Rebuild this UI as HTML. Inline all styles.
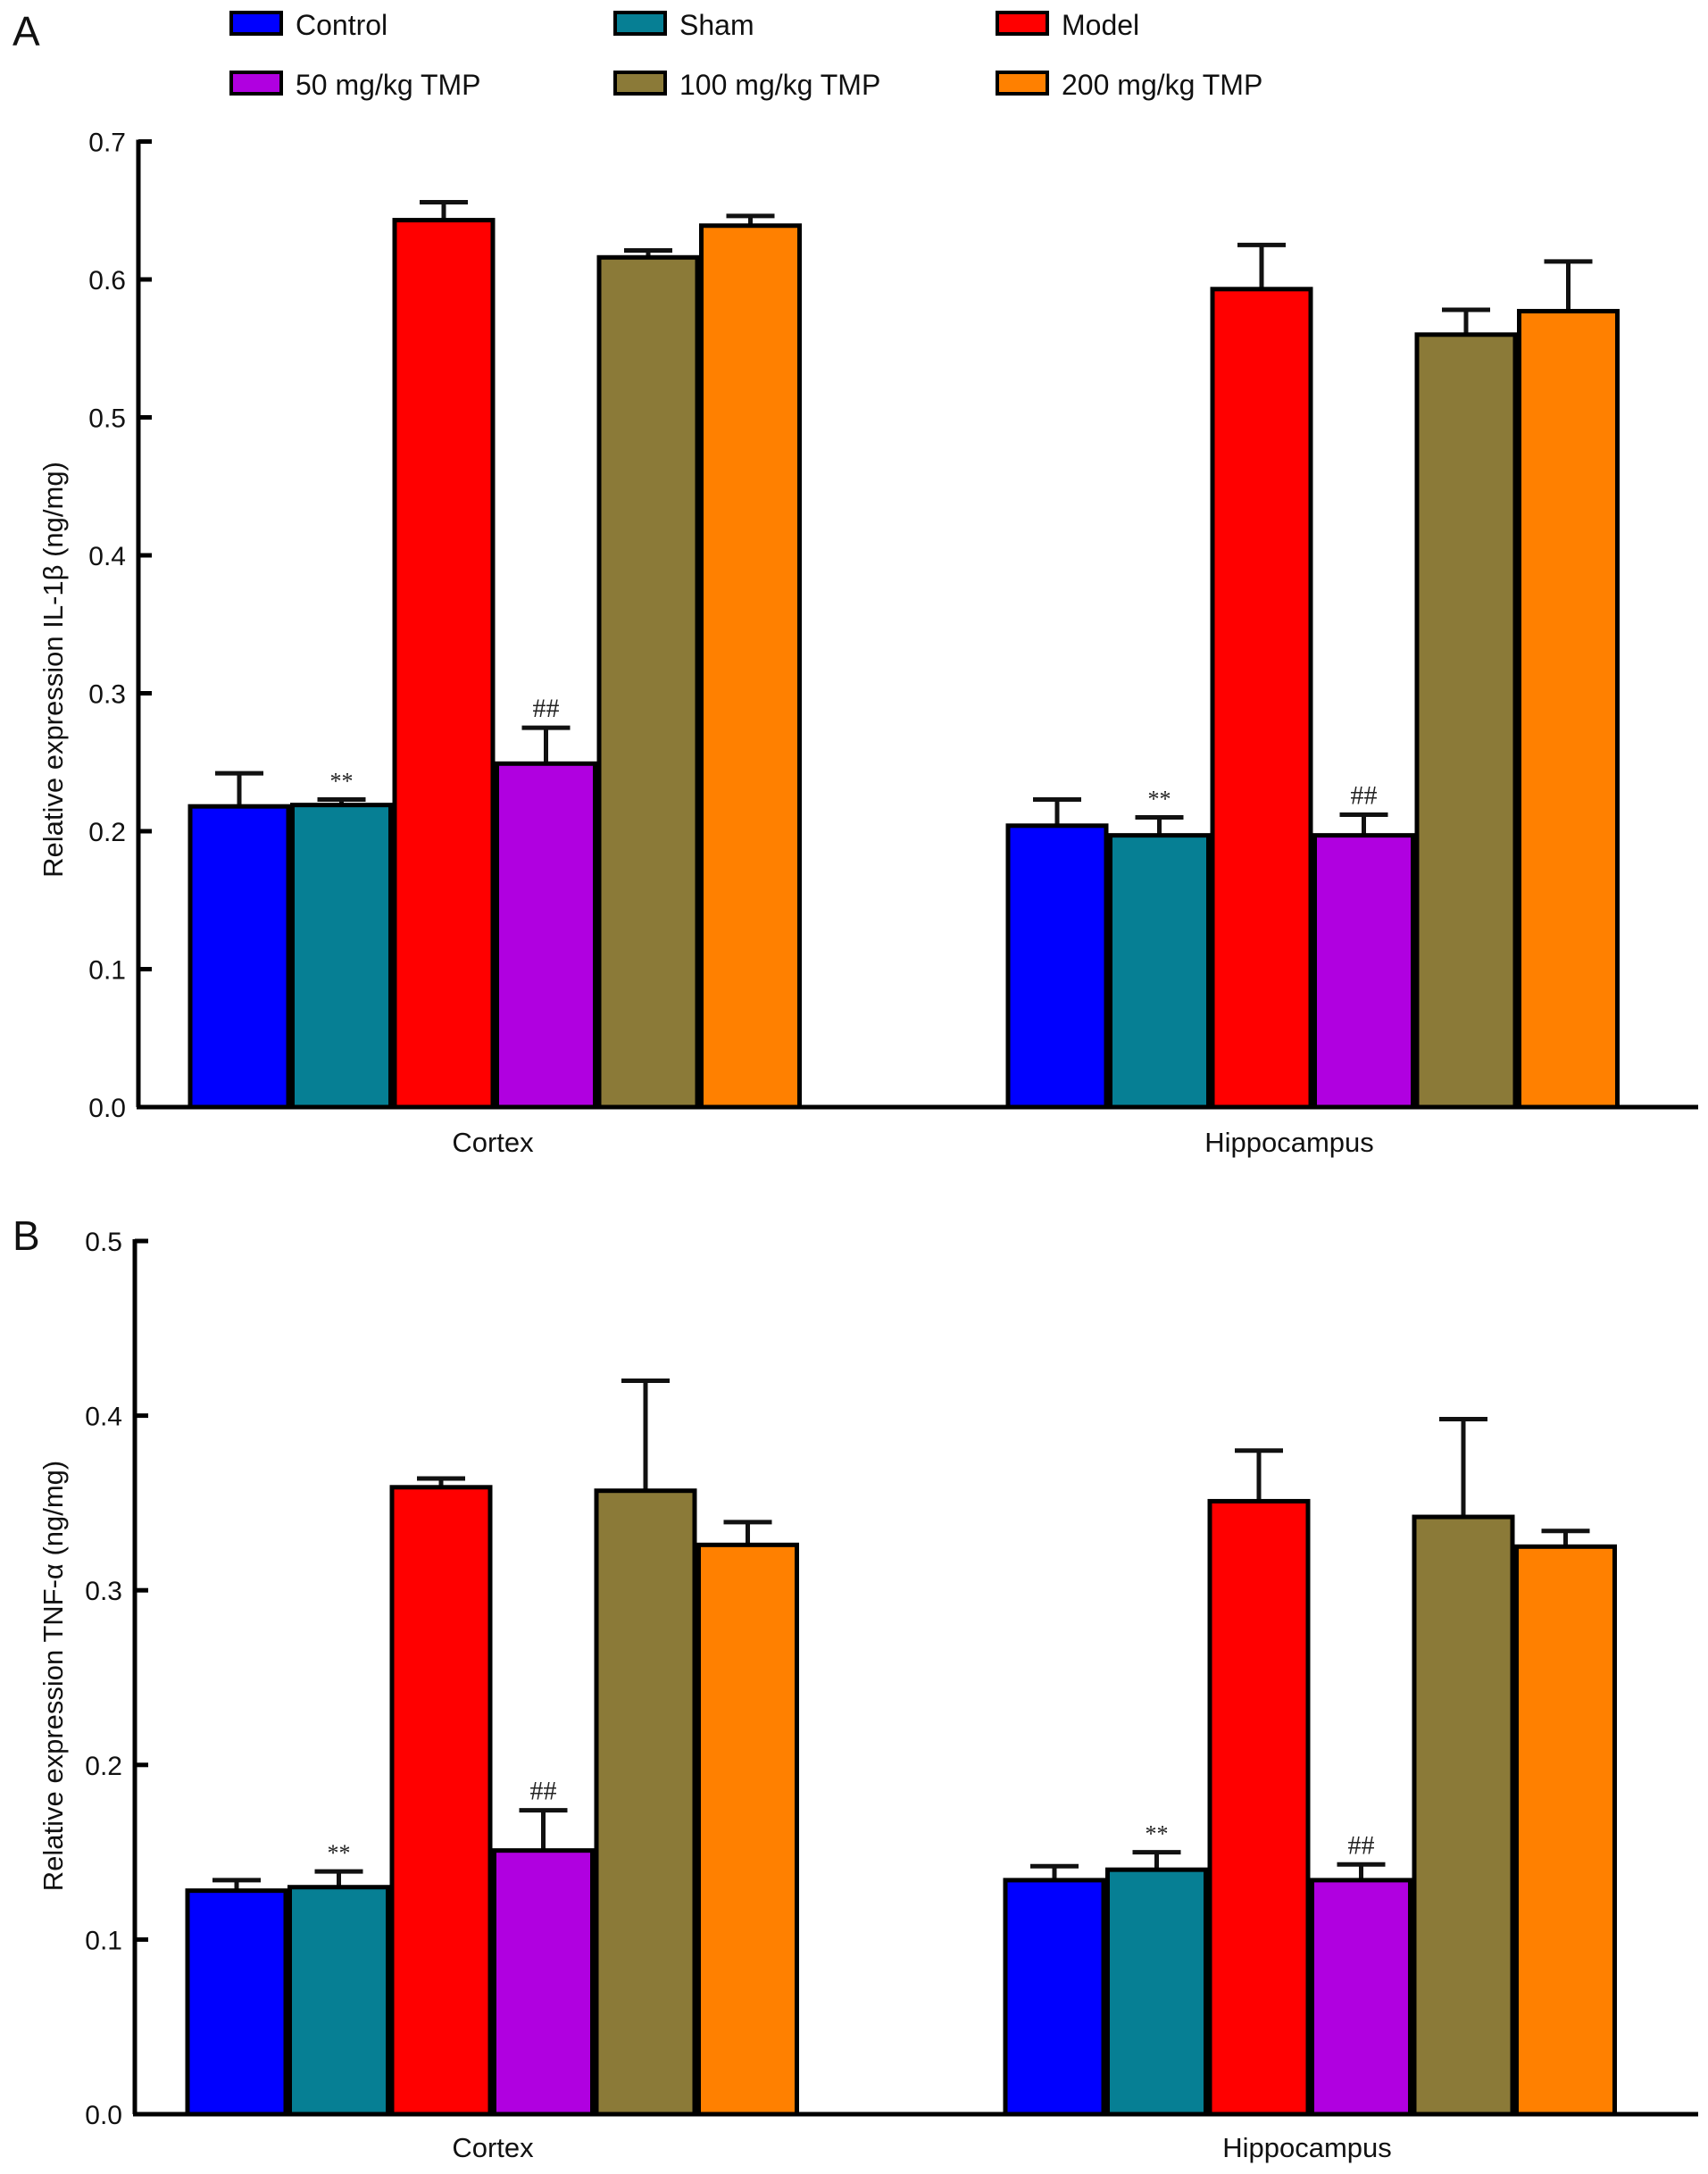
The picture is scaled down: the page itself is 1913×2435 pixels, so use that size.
<!DOCTYPE html>
<html><head><meta charset="utf-8"><style>
html,body{margin:0;padding:0;background:#fff;}
svg{display:block;font-family:"Liberation Sans",Arial,sans-serif;}
</style></head><body>
<svg id="fig" width="1913" height="2435" viewBox="0 0 1913 2435" xmlns="http://www.w3.org/2000/svg">
<g id="legend"></g>
<g id="panelA"></g>
<g id="panelB"></g>
</svg>
<script>
const groups = ["Control","Sham","Model","50 mg/kg TMP","100 mg/kg TMP","200 mg/kg TMP"];
const colors = ["#0000ff","#067f94","#ff0000","#b000e0","#8b7a38","#ff8000"];
const regions = ["Cortex","Hippocampus"];
const ilCortex = [0.218,0.219,0.643,0.249,0.616,0.639];
const ilCortexErr = [0.024,0.004,0.013,0.026,0.005,0.007];
const ilHippo = [0.204,0.197,0.593,0.197,0.560,0.577];
const ilHippoErr = [0.019,0.013,0.032,0.015,0.018,0.036];
const tnCortex = [0.128,0.130,0.359,0.151,0.357,0.326];
const tnCortexErr = [0.006,0.009,0.005,0.023,0.063,0.013];
const tnHippo = [0.134,0.140,0.351,0.134,0.342,0.325];
const tnHippoErr = [0.008,0.010,0.029,0.009,0.056,0.009];
const ilTicks = ["0.0","0.1","0.2","0.3","0.4","0.5","0.6","0.7"];
const tnTicks = ["0.0","0.1","0.2","0.3","0.4","0.5"];
const ilMarks = ["","**","","##","",""];
const tnMarks = ["","**","","##","",""];

const NS="http://www.w3.org/2000/svg";
function mk(tag, attrs, parent){const e=document.createElementNS(NS,tag);for(const k in attrs)e.setAttribute(k,attrs[k]);parent.appendChild(e);return e;}

const lg=document.getElementById('legend');
const lx=[259,689,1117], ly=[14,81];
groups.forEach((g,i)=>{
  const x=lx[i%3], y=ly[Math.floor(i/3)];
  const it=mk('g',{},lg);
  
  
  const r=mk('rect',{x:x,y:y,width:56,height:24,fill:colors[i],stroke:'#000','stroke-width':4},it);
  
  
  const t=mk('text',{x:x+72,y:y+25,'font-size':32,fill:'#111'},it);
  t.textContent=g;
  
  
});

function panel(gid, letter, letterY, yTop, yBot, maxV, ticks, series, errs, marks, title, titleY, labelXs, labelY, axisX, starts){
  const g=document.getElementById(gid);
  const ys=v=>yBot-(v/maxV)*(yBot-yTop);
  const L=mk('text',{x:14,y:letterY,'font-size':46,fill:'#111'},g);L.textContent=letter;
  
  
  const bw=110, step=114.5;
  series.forEach((vals,ri)=>{
    vals.forEach((v,i)=>{
      const x=starts[ri]+i*step+2;
      const top=ys(v), etop=ys(v+errs[ri][i]), cx=x+bw/2;
      const eb=mk('line',{x1:cx,y1:top,x2:cx,y2:etop,stroke:'#111','stroke-width':5},g);
      
      
      const cap=mk('line',{x1:cx-27,y1:etop,x2:cx+27,y2:etop,stroke:'#111','stroke-width':5},g);
      
      
      const b=mk('rect',{x:x,y:top,width:bw,height:yBot-top,fill:colors[i],stroke:'#000','stroke-width':5},g);
      
      
      if(marks[i]){
        const m=mk('text',{x:cx,y:etop-12,'font-size':marks[i]=='**'?26:30,'text-anchor':'middle',fill:'#222','font-family':'"Liberation Serif",serif'},g);
        m.textContent=marks[i];
        
        
      }
    });
  });
  const ya=mk('line',{x1:axisX,y1:yTop-2,x2:axisX,y2:yBot,stroke:'#000','stroke-width':5},g);
  
  
  const xa=mk('line',{x1:axisX-2,y1:yBot,x2:1902,y2:yBot,stroke:'#000','stroke-width':5},g);
  
  
  ticks.forEach((t,i)=>{
    const y=ys(parseFloat(t));
    const tk=mk('line',{x1:axisX,y1:y,x2:axisX+15,y2:y,stroke:'#000','stroke-width':5},g);
    
    
    const tl=mk('text',{x:axisX-14,y:y+11,'font-size':30,'text-anchor':'end',fill:'#111'},g);
    tl.textContent=t;
    
    
  });
  const tt=mk('text',{x:0,y:0,'font-size':31,'text-anchor':'middle',fill:'#111',transform:`translate(70,${titleY}) rotate(-90)`},g);
  tt.textContent=title;
  
  
  regions.forEach((r,i)=>{
    const c=mk('text',{x:labelXs[i],y:labelY,'font-size':31,'text-anchor':'middle',fill:'#111'},g);
    c.textContent=r;
    
    
  });
}
panel('panelA','A',51,158.5,1240,0.7,ilTicks,[ilCortex,ilHippo],[ilCortexErr,ilHippoErr],ilMarks,'Relative expression IL-1β (ng/mg)',750,[552,1444],1290,155,[211,1127]);
panel('panelB','B',1400,1390,2368,0.5,tnTicks,[tnCortex,tnHippo],[tnCortexErr,tnHippoErr],tnMarks,'Relative expression TNF-α (ng/mg)',1877,[552,1464],2416,151,[208,1124]);
</script>
</body></html>
